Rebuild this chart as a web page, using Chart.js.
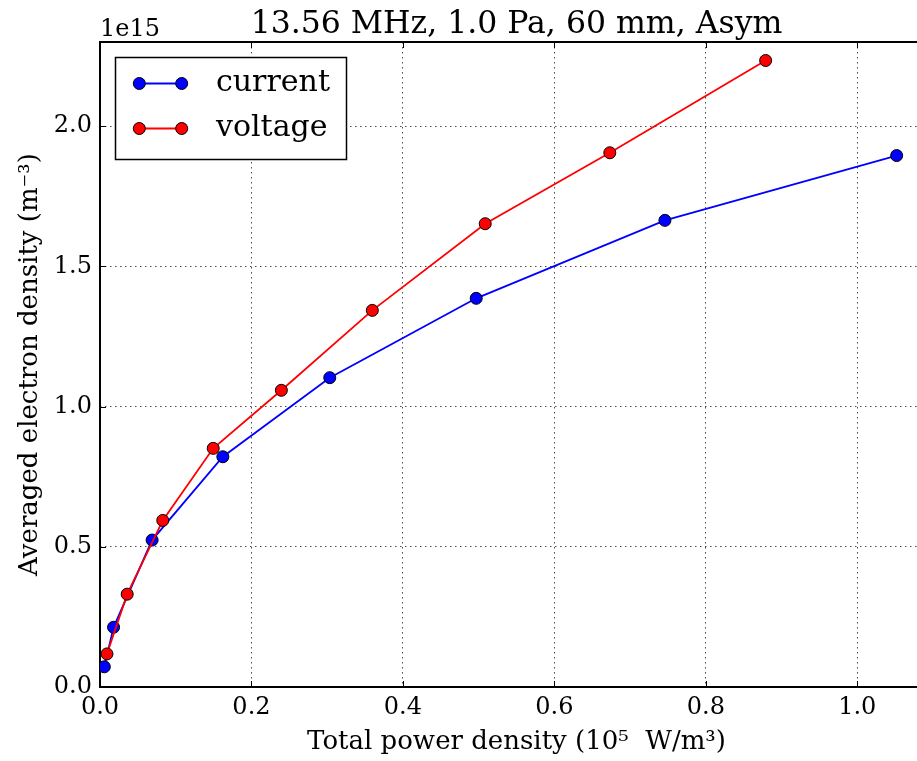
<!DOCTYPE html>
<html>
<head>
<meta charset="utf-8">
<script src="https://cdn.jsdelivr.net/npm/chart.js@4/dist/chart.umd.min.js"></script>
<style>
  html, body { margin: 0; padding: 0; background: #fff; overflow: hidden; }
  #wrap { width: 917px; height: 761px; overflow: hidden; position: relative; }
  canvas { display: block; }
</style>
</head>
<body>
<div id="wrap"><canvas id="c" width="940" height="761"></canvas></div>
<script>
// Total power density (10^5 W/m^3) and averaged electron density (units of 1e15 m^-3)
const powerCurrent   = [0.0057, 0.0179, 0.0688, 0.1622, 0.3034, 0.4968, 0.7460, 1.0520];
const densityCurrent = [0.072, 0.213, 0.524, 0.821, 1.103, 1.386, 1.664, 1.895];
const powerVoltage   = [0.0092, 0.0359, 0.0829, 0.1495, 0.2395, 0.3596, 0.5087, 0.6732, 0.8790];
const densityVoltage = [0.118, 0.331, 0.594, 0.851, 1.058, 1.343, 1.652, 1.905, 2.234];

const xTicks = [0.0, 0.2, 0.4, 0.6, 0.8, 1.0];
const yTicks = [0.0, 0.5, 1.0, 1.5, 2.0];
const X_MAX = 1.1;
const Y_MAX = 2.3;

const titleText = '13.56 MHz, 1.0 Pa, 60 mm, Asym';
const xLabel = 'Total power density (10\u2075  W/m\u00B3)';
const yLabel = 'Averaged electron density (m\u207B\u00B3)';
const offsetText = '1e15';
const seriesNames = ['current', 'voltage'];
const seriesColors = ['#0000ff', '#ff0000'];

const SERIF = '"DejaVu Serif", "Liberation Serif", serif';

function toPoints(xs, ys) { return xs.map((x, i) => ({ x: x, y: ys[i] })); }

// white page background
const background = {
  id: 'background',
  beforeDraw(chart) {
    const ctx = chart.ctx;
    ctx.save();
    ctx.fillStyle = '#fff';
    ctx.fillRect(0, 0, chart.width, chart.height);
    ctx.restore();
  }
};

// axes frame with inward tick marks
const frame = {
  id: 'frame',
  beforeDatasetsDraw(chart) {
    const { ctx, chartArea: a, scales } = chart;
    ctx.save();
    ctx.strokeStyle = '#000';
    ctx.lineWidth = 1;
    const tl = 6;
    ctx.beginPath();
    xTicks.forEach(v => {
      const px = Math.round(scales.x.getPixelForValue(v)) + 0.5;
      ctx.moveTo(px, a.bottom); ctx.lineTo(px, a.bottom - tl);
      ctx.moveTo(px, a.top); ctx.lineTo(px, a.top + tl);
    });
    yTicks.forEach(v => {
      const py = Math.round(scales.y.getPixelForValue(v)) + 0.5;
      ctx.moveTo(a.left, py); ctx.lineTo(a.left + tl, py);
      ctx.moveTo(a.right, py); ctx.lineTo(a.right - tl, py);
    });
    ctx.stroke();
    ctx.lineWidth = 2;
    ctx.strokeRect(a.left, a.top, a.right - a.left, a.bottom - a.top);
    ctx.restore();
  }
};

// title, axis labels, offset text and legend
const annotations = {
  id: 'annotations',
  afterDraw(chart) {
    const { ctx, chartArea: a } = chart;
    const cx = (a.left + a.right) / 2;
    ctx.save();
    ctx.fillStyle = '#000';

    ctx.font = '31.5px ' + SERIF;
    ctx.textAlign = 'center';
    ctx.textBaseline = 'alphabetic';
    ctx.fillText(titleText, cx, 33);

    ctx.font = '24px ' + SERIF;
    ctx.textAlign = 'left';
    ctx.fillText(offsetText, a.left, 36);

    ctx.font = '26px ' + SERIF;
    ctx.textAlign = 'center';
    ctx.fillText(xLabel, cx, 749);

    ctx.save();
    ctx.translate(37, (a.top + a.bottom) / 2);
    ctx.rotate(-Math.PI / 2);
    ctx.fillText(yLabel, 0, 0);
    ctx.restore();

    // legend
    const bx = 115.5, by = 57.5, bw = 231, bh = 102;
    ctx.fillStyle = '#fff';
    ctx.fillRect(bx, by, bw, bh);
    ctx.strokeStyle = '#000';
    ctx.lineWidth = 1.5;
    ctx.strokeRect(bx, by, bw, bh);
    const rows = [83.5, 128.5];
    seriesNames.forEach((name, i) => {
      const y = rows[i];
      ctx.strokeStyle = seriesColors[i];
      ctx.lineWidth = 1.8;
      ctx.beginPath(); ctx.moveTo(139.3, y); ctx.lineTo(181.7, y); ctx.stroke();
      [139.3, 181.7].forEach(mx => {
        ctx.beginPath();
        ctx.arc(mx, y, 6, 0, Math.PI * 2);
        ctx.fillStyle = seriesColors[i];
        ctx.fill();
        ctx.lineWidth = 1;
        ctx.strokeStyle = '#000';
        ctx.stroke();
      });
      ctx.fillStyle = '#000';
      ctx.font = '30px ' + SERIF;
      ctx.textAlign = 'left';
      ctx.textBaseline = 'middle';
      ctx.fillText(name, 216, y);
    });
    ctx.restore();
  }
};

const gridStyle = { color: 'rgba(0,0,0,0.7)', lineWidth: 1, drawTicks: false };

new Chart(document.getElementById('c'), {
  type: 'scatter',
  data: {
    datasets: [
      {
        label: seriesNames[0],
        data: toPoints(powerCurrent, densityCurrent),
        showLine: true,
        borderColor: seriesColors[0],
        backgroundColor: seriesColors[0],
        borderWidth: 1.8,
        pointRadius: 6,
        pointHoverRadius: 6,
        pointBorderColor: '#000',
        pointBorderWidth: 1,
        pointBackgroundColor: seriesColors[0],
        order: 2
      },
      {
        label: seriesNames[1],
        data: toPoints(powerVoltage, densityVoltage),
        showLine: true,
        borderColor: seriesColors[1],
        backgroundColor: seriesColors[1],
        borderWidth: 1.8,
        pointRadius: 6,
        pointHoverRadius: 6,
        pointBorderColor: '#000',
        pointBorderWidth: 1,
        pointBackgroundColor: seriesColors[1],
        order: 1
      }
    ]
  },
  options: {
    responsive: false,
    animation: false,
    devicePixelRatio: 1,
    layout: { padding: { top: 42, right: 4, left: 0, bottom: 0 } },
    plugins: { legend: { display: false }, tooltip: { enabled: false }, title: { display: false } },
    scales: {
      x: {
        type: 'linear',
        min: 0,
        max: X_MAX,
        afterBuildTicks: s => { s.ticks = xTicks.map(v => ({ value: v })); },
        afterFit: s => { s.height = 74; },
        grid: gridStyle,
        border: { display: false, dash: [1.5, 3.5] },
        ticks: {
          padding: 6,
          color: '#000',
          font: { family: SERIF, size: 24 },
          maxRotation: 0,
          callback: v => Number(v).toFixed(1)
        }
      },
      y: {
        type: 'linear',
        min: 0,
        max: Y_MAX,
        afterBuildTicks: s => { s.ticks = yTicks.map(v => ({ value: v })); },
        afterFit: s => { s.width = 100; },
        grid: gridStyle,
        border: { display: false, dash: [1.5, 3.5] },
        ticks: {
          padding: 8,
          color: '#000',
          font: { family: SERIF, size: 24 },
          callback: v => Number(v).toFixed(1)
        }
      }
    }
  },
  plugins: [background, frame, annotations]
});
</script>
</body>
</html>
